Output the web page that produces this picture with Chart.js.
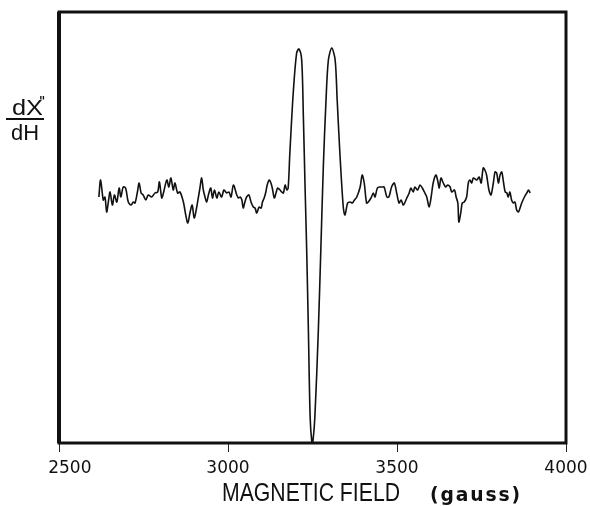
<!DOCTYPE html>
<html>
<head>
<meta charset="utf-8">
<script src="https://cdn.jsdelivr.net/npm/chart.js@4/dist/chart.umd.min.js"></script>
<style>
  html, body { margin: 0; padding: 0; background: #fff; }
  #c { display: block; }
</style>
</head>
<body>
<canvas id="c" width="590" height="506"></canvas>
<script>
// magnetic field (gauss) and derivative signal (arbitrary units, baseline ~0)
var fields = [
  2618, 2623, 2631, 2636, 2641, 2646, 2651, 2658, 2664, 2671, 2678, 2683, 2690, 2697, 2705,
  2713, 2720, 2725, 2732, 2737, 2743, 2749, 2757, 2764, 2774, 2784, 2792, 2797, 2804, 2809,
  2819, 2825, 2831, 2838, 2843, 2851, 2858, 2868, 2875, 2881, 2888, 2894, 2900, 2907, 2912,
  2917, 2922, 2927, 2932, 2937, 2942, 2949, 2954, 2960, 2967, 2973, 2981, 2988, 2996, 3003,
  3009, 3016, 3026, 3031, 3036, 3041, 3045, 3050, 3055, 3062, 3068, 3075, 3080, 3085, 3092,
  3098, 3102, 3107, 3112, 3116, 3122, 3127, 3131, 3137, 3142, 3147, 3154, 3159, 3164, 3169,
  3174, 3178, 3183, 3193, 3203, 3210, 3218, 3223, 3228, 3233, 3238, 3243, 3248, 3251, 3257,
  3267, 3274, 3282, 3290, 3297, 3307, 3317, 3323, 3331, 3341, 3346, 3354, 3361, 3368, 3374,
  3381, 3391, 3397, 3403, 3410, 3415, 3423, 3430, 3435, 3442, 3450, 3457, 3462, 3470, 3476,
  3484, 3492, 3499, 3506, 3512, 3519, 3529, 3536, 3541, 3548, 3553, 3561, 3568, 3575, 3581,
  3588, 3595, 3601, 3607, 3615, 3620, 3625, 3630, 3637, 3644, 3650, 3657, 3662, 3670, 3675,
  3680, 3683, 3689, 3693, 3699, 3706, 3711, 3716, 3721, 3726, 3736, 3743, 3749, 3755, 3760,
  3765, 3772, 3778, 3785, 3790, 3795, 3800, 3805, 3810, 3815, 3820, 3825, 3829, 3834, 3839,
  3844, 3849, 3854, 3859, 3864, 3869, 3877, 3884, 3889, 3894
];
var signal = [
  -7, 10, -10, -7, -22, -12, -2, -15, -5, -12, 2, -7, 3, 2, -12,
  -15, -12, -13, -2, 7, -3, -5, -10, -5, -7, -3, -2, 8, -8, -3,
  10, 3, 12, 0, 7, -3, -2, -12, -25, -33, -22, -15, -28, -18, -8,
  2, 12, 0, -7, -12, -5, 2, -8, 0, -8, -2, -7, 0, -3, -2,
  -7, 5, -5, -8, -7, -10, -18, -12, -7, -5, -12, -17, -18, -23, -17,
  -18, -12, -8, -2, 5, 10, 7, 2, -8, -3, 2, 0, -2, -3, 5,
  0, 2, 37, 97, 137, 141, 130, 73, 3, -63, -143, -227, -252, -252, -227,
  -143, -67, 23, 90, 130, 142, 130, 90, 37, -17, -25, -13, -12, -13, -10,
  -7, 3, 15, 7, -13, -12, -8, -3, -7, 2, 3, 3, 3, -7, -7,
  3, 7, -3, -13, -10, -15, -8, -3, 2, -2, 3, 0, 5, 2, -2,
  -7, -17, -7, 7, 15, 10, 2, 12, 7, 3, 5, 3, -2, 0, -7,
  -13, -32, -22, -13, -12, -7, 7, 10, 7, 12, 10, 13, 7, 22, 20,
  15, 0, -5, 7, 18, 17, 7, 15, 18, 8, -2, -3, -7, -2, -10,
  -13, -12, -20, -22, -18, -13, -7, -3, 0, -3
];
var xTicks = [2500, 3000, 3500, 4000];

var points = fields.map(function(f, i) { return { x: f, y: signal[i] }; });

// frame box and hand-lettered titles
var framePlugin = {
  id: 'frame',
  afterDraw: function(chart) {
    var ctx = chart.ctx, a = chart.chartArea;
    ctx.save();
    ctx.strokeStyle = '#111';
    ctx.lineWidth = 3;
    ctx.strokeRect(a.left, a.top, a.right - a.left, a.bottom - a.top);
    ctx.lineWidth = 4;
    ctx.beginPath();
    ctx.moveTo(a.left, a.top);
    ctx.lineTo(a.left, a.bottom);
    ctx.stroke();

    ctx.fillStyle = '#111';
    ctx.textBaseline = 'alphabetic';
    fitText(ctx, 'MAGNETIC FIELD', 222, 501, 178, '26px "Liberation Sans"');
    ctx.letterSpacing = '2px';
    fitText(ctx, '(gauss)', 430, 501, 92, 'bold 20px "DejaVu Sans"');
    ctx.letterSpacing = '0px';

    fitText(ctx, 'dX', 12, 115, 31, '22px "Liberation Sans"');
    ctx.font = 'bold 12px "DejaVu Sans"';
    ctx.fillText('"', 39, 105);
    ctx.lineWidth = 2;
    ctx.beginPath();
    ctx.moveTo(6, 119);
    ctx.lineTo(44, 119);
    ctx.stroke();
    fitText(ctx, 'dH', 11, 140, 28, '22px "Liberation Sans"');
    ctx.restore();
  }
};

function fitText(ctx, txt, x, y, w, font) {
  ctx.font = font;
  var m = ctx.measureText(txt).width;
  ctx.save();
  ctx.translate(x, y);
  ctx.scale(w / m, 1);
  ctx.fillText(txt, 0, 0);
  ctx.restore();
}

new Chart(document.getElementById('c').getContext('2d'), {
  type: 'line',
  data: {
    datasets: [{
      data: points,
      borderColor: '#111',
      borderWidth: 1.6,
      pointRadius: 0,
      tension: 0.3,
      fill: false
    }]
  },
  options: {
    responsive: false,
    animation: false,
    layout: { padding: { left: 59, right: 24, top: 12, bottom: 0 } },
    plugins: { legend: { display: false }, tooltip: { enabled: false } },
    scales: {
      x: {
        type: 'linear',
        min: 2500,
        max: 4000,
        afterBuildTicks: function(axis) {
          axis.ticks = xTicks.map(function(v) { return { value: v }; });
        },
        afterFit: function(axis) {
          axis.height = 63;
          axis.paddingRight = 0;
        },
        border: { display: false },
        grid: { drawOnChartArea: false, drawTicks: true, tickLength: 9, color: '#222', lineWidth: 1 },
        ticks: {
          padding: 6,
          color: '#111',
          font: { family: 'DejaVu Sans', size: 17 },
          maxRotation: 0,
          callback: function(v) {
            // first label sits right of its tick in the original
            return v === 2500 ? '\u2007\u2007' + String(v) : String(v);
          }
        }
      },
      y: {
        display: false,
        min: -253,
        max: 178
      }
    }
  },
  plugins: [framePlugin]
});
</script>
</body>
</html>
